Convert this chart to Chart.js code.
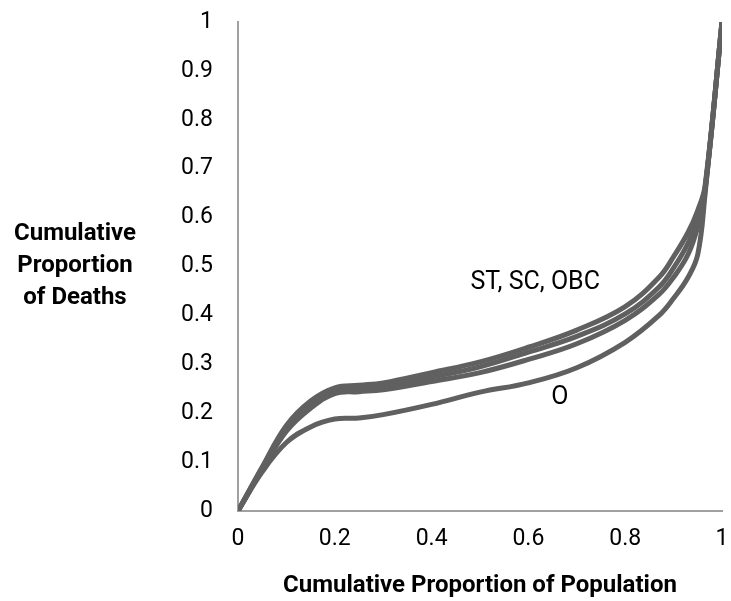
<!DOCTYPE html>
<html>
<head>
<meta charset="utf-8">
<script src="https://cdn.jsdelivr.net/npm/chart.js@4"></script>
<style>
  html, body { margin: 0; padding: 0; background: #fff; }
  #wrap { width: 731px; height: 601px; position: relative; }
</style>
</head>
<body>
<div id="wrap"><canvas id="chart" width="731" height="601"></canvas></div>
<script>
// Cumulative proportion of population (x) and deaths (y)
const popShare = [0, 0.05, 0.1, 0.15, 0.2, 0.25, 0.3, 0.4, 0.5, 0.6, 0.7, 0.8, 0.87, 0.9, 0.93, 0.95, 0.965, 1];
const curveA   = [0, 0.09, 0.175, 0.225, 0.252, 0.257, 0.262, 0.283, 0.305, 0.335, 0.37, 0.418, 0.478, 0.52, 0.57, 0.615, 0.665, 1];
const curveB   = [0, 0.088, 0.17, 0.218, 0.247, 0.252, 0.256, 0.274, 0.295, 0.325, 0.357, 0.403, 0.458, 0.497, 0.548, 0.6, 0.66, 1];
const curveC   = [0, 0.085, 0.163, 0.21, 0.24, 0.244, 0.248, 0.265, 0.283, 0.31, 0.342, 0.39, 0.443, 0.478, 0.525, 0.582, 0.655, 1];
const curveO   = [0, 0.08, 0.14, 0.172, 0.188, 0.19, 0.197, 0.218, 0.243, 0.262, 0.293, 0.345, 0.4, 0.435, 0.478, 0.525, 0.648, 1];

const seriesNames = ['ST', 'SC', 'OBC', 'O'];
const seriesValues = [curveA, curveB, curveC, curveO];

// text labels placed in data coordinates
const notes = [
    { text: 'ST, SC, OBC', x: 0.614, y: 0.466 },
    { text: 'O', x: 0.665, y: 0.231 }
];
const yTitleLines = ['Cumulative', 'Proportion', 'of Deaths'];

const FONT = 'Roboto, "Open Sans", sans-serif';
const LINE = '#606060';

function tickText(v) {
    return String(Number(v.toFixed(1)));
}

// draws the horizontal y title and the curve labels
const textPlugin = {
    id: 'texts',
    afterDraw(chart) {
        const ctx = chart.ctx;
        const xs = chart.scales.x, ys = chart.scales.y;
        ctx.save();
        ctx.fillStyle = '#000';
        ctx.textAlign = 'center';
        ctx.textBaseline = 'middle';
        ctx.font = '25px ' + FONT;
        notes.forEach(n => {
            ctx.fillText(n.text, xs.getPixelForValue(n.x), ys.getPixelForValue(n.y));
        });
        ctx.font = 'bold 24px ' + FONT;
        yTitleLines.forEach((t, i) => {
            ctx.fillText(t, 75, 234 + i * 32);
        });
        ctx.restore();
    }
};

const ctx = document.getElementById('chart').getContext('2d');
const chart = new Chart(ctx, {
    type: 'line',
    data: {
        datasets: seriesValues.map((vals, i) => ({
            label: seriesNames[i],
            data: popShare.map((x, j) => ({ x: x, y: vals[j] })),
            borderColor: LINE,
            borderWidth: 5,
            pointRadius: 0,
            fill: false,
            tension: 0.4
        }))
    },
    options: {
        responsive: false,
        animation: false,
        layout: { padding: { top: 22, right: 9, left: 0, bottom: 0 } },
        plugins: {
            legend: { display: false },
            tooltip: { enabled: false }
        },
        scales: {
            x: {
                type: 'linear',
                min: 0,
                max: 1,
                grid: { display: false, drawTicks: false },
                border: { display: true, color: '#a0a0a0', width: 2 },
                ticks: {
                    stepSize: 0.2,
                    padding: 14,
                    color: '#000',
                    font: { family: FONT, size: 23 },
                    callback: v => tickText(v)
                },
                title: {
                    display: true,
                    text: 'Cumulative Proportion of Population',
                    color: '#000',
                    font: { family: FONT, size: 24, weight: 'bold' },
                    padding: { top: 0, bottom: 1 }
                },
                afterFit: s => { s.height = 90; s.paddingLeft = 0; s.paddingRight = 0; }
            },
            y: {
                min: 0,
                max: 1,
                grid: { display: false, drawTicks: false },
                border: { display: true, color: '#a0a0a0', width: 2 },
                ticks: {
                    stepSize: 0.1,
                    padding: 25,
                    color: '#000',
                    font: { family: FONT, size: 23 },
                    callback: v => tickText(v)
                },
                afterFit: s => { s.width = 238; s.paddingTop = 0; s.paddingBottom = 0; }
            }
        }
    },
    plugins: [textPlugin]
});
</script>
</body>
</html>
